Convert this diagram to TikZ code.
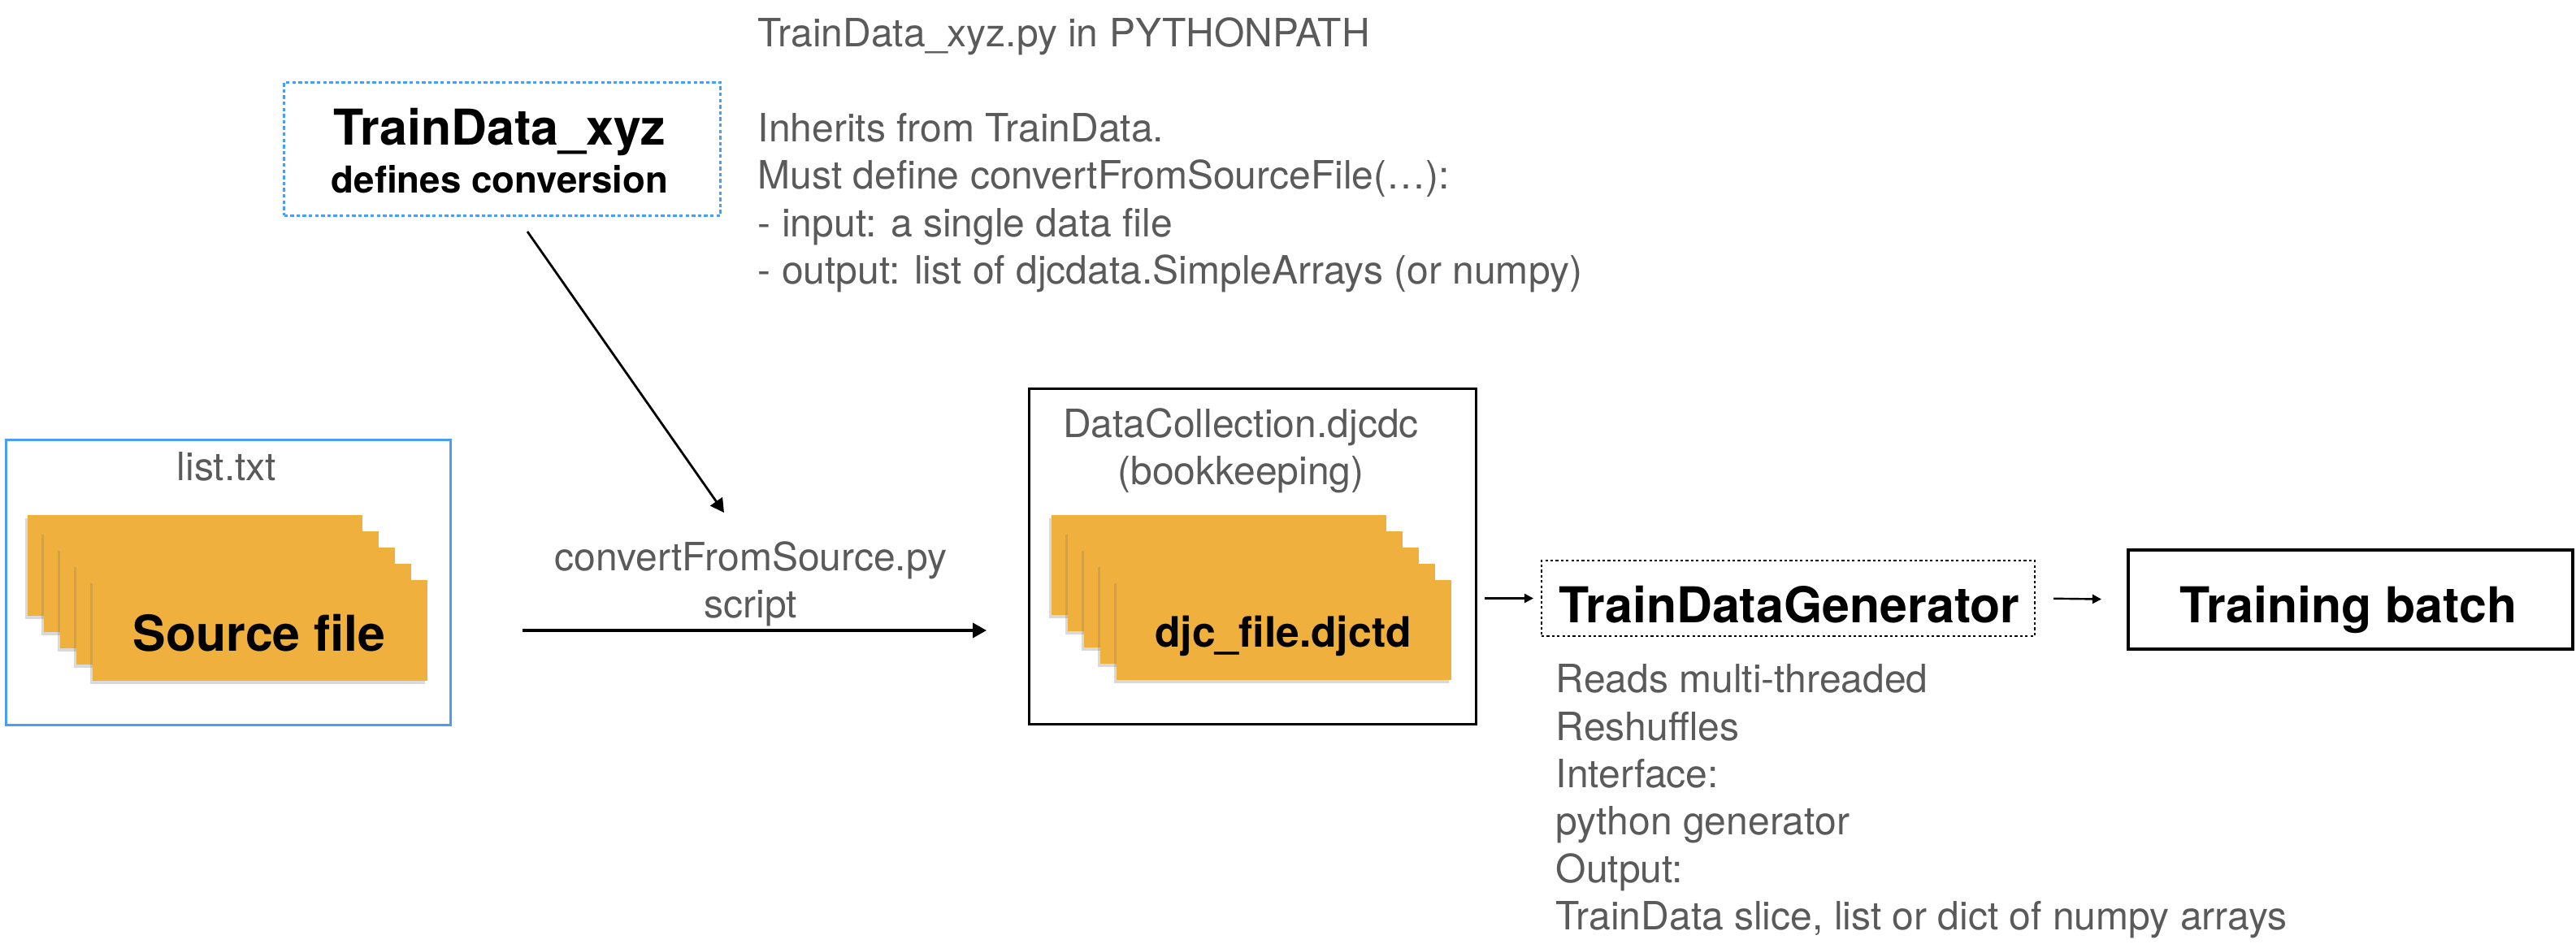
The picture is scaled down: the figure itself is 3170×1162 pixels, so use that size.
\documentclass[tikz,border=0pt]{standalone}
\usepackage{fontspec}
\setmainfont{TeX Gyre Heros}
\usetikzlibrary{arrows.meta,shadows}
\definecolor{cardorange}{RGB}{240,176,62}
\definecolor{boxblue}{RGB}{74,158,248}
\definecolor{txtgray}{RGB}{90,90,90}
\begin{document}
\begin{tikzpicture}[x=0.25pt,y=-0.25pt,
  card/.style={fill=cardorange, draw=none, drop shadow={shadow xshift=-0.7pt,shadow yshift=-0.9pt,opacity=0.3}},
  graytext/.style={text=txtgray, inner sep=0pt, font=\fontsize{12}{14.6}\selectfont},
  bigbold/.style={inner sep=0pt, font=\bfseries\fontsize{15.2}{18}\selectfont},
  framebox/.style={inner sep=0pt, anchor=north west},
  arr/.style={-{Triangle[length=4.2pt,width=4.5pt]}, line width=0.8pt},
  smallarr/.style={-{Triangle[length=2.8pt,width=2.8pt]}, line width=0.6pt},
]
\useasboundingbox (0,0) rectangle (3170,1162);

% ---- list.txt box with source files
\node[framebox, draw=boxblue, line width=0.8pt, minimum width={547*0.25pt}, minimum height={351*0.25pt}] (listbox) at (6,540) {};
\node[graytext, anchor=base] (listlbl) at (279,592) {list.txt};
\foreach \i in {0,...,4}{
  \path[card] ({34+20*\i},{634+20*\i}) rectangle ({446+20*\i},{758+20*\i});
}
\node[bigbold, anchor=base] (srcfile) at (319,802) {Source file};

% ---- TrainData_xyz box
\node[framebox, draw=boxblue, line width=0.75pt, dash pattern=on 1.1pt off 0.8pt, minimum width={537*0.25pt}, minimum height={164*0.25pt}] (xyzbox) at (348,100) {};
\node[bigbold, anchor=base] (xyztitle) at (615,179) {TrainData\_xyz};
\node[inner sep=0pt, font=\bfseries\fontsize{11.4}{14}\selectfont, anchor=base] (xyzsub) at (615,238) {defines conversion};

\node[graytext, anchor=north west, align=left] (pytext) at (932,21) {TrainData\_xyz.py in PYTHONPATH\\[14.6pt]
Inherits from TrainData.\\
Must define convertFromSourceFile(…):\\
- input: a single data file\\
- output: list of djcdata.SimpleArrays (or numpy)};

\coordinate (inhstart) at (649,285);
\coordinate (inhend) at (891,631);
\draw[arr, line width=0.7pt] (inhstart) -- (inhend);

% ---- conversion arrow
\coordinate (convstart) at (643,776);
\coordinate (convend) at (1214,776);
\draw[arr] (convstart) -- (convend);
\node[graytext, align=center] (convlbl) at (924,719) {convertFromSource.py\\script};

% ---- DataCollection box
\node[framebox, draw=black, line width=0.8pt, minimum width={550*0.25pt}, minimum height={413*0.25pt}] (dcbox) at (1265,477) {};
\node[graytext, align=center] (dclbl) at (1527,555) {DataCollection.djcdc\\(bookkeeping)};
\foreach \i in {0,...,4}{
  \path[card] ({1294+20*\i},{634+20*\i}) rectangle ({1706+20*\i},{757+20*\i});
}
\node[inner sep=0pt, font=\bfseries\fontsize{12.9}{15}\selectfont, anchor=base] (djcfile) at (1579,797) {djc\_file.djctd};

% ---- TrainDataGenerator
\node[framebox, draw=black, line width=0.5pt, dash pattern=on 0.8pt off 0.8pt, minimum width={607*0.25pt}, minimum height={93*0.25pt}] (tdg) at (1896,689) {};
\node[bigbold, anchor=base] (tdglbl) at (2202,767) {TrainDataGenerator};

% ---- Training batch
\node[framebox, draw=black, line width=1pt, minimum width={547*0.25pt}, minimum height={122*0.25pt}] (tb) at (2617,675) {};
\node[bigbold, anchor=base] (tblbl) at (2890,767) {Training batch};

\draw[smallarr, shorten <=2.25pt, shorten >=2.25pt] (dcbox.east |- tdg.west) -- (tdg.west);
\draw[smallarr, shorten <=5.5pt, shorten >=7.75pt] (tdg.east) -- (tb.west);

\node[graytext, anchor=north west, align=left] (tdgtext) at (1914,817) {Reads multi-threaded\\
Reshuffles\\
Interface:\\
python generator\\
Output:\\
TrainData slice, list or dict of numpy arrays};
\end{tikzpicture}
\end{document}
